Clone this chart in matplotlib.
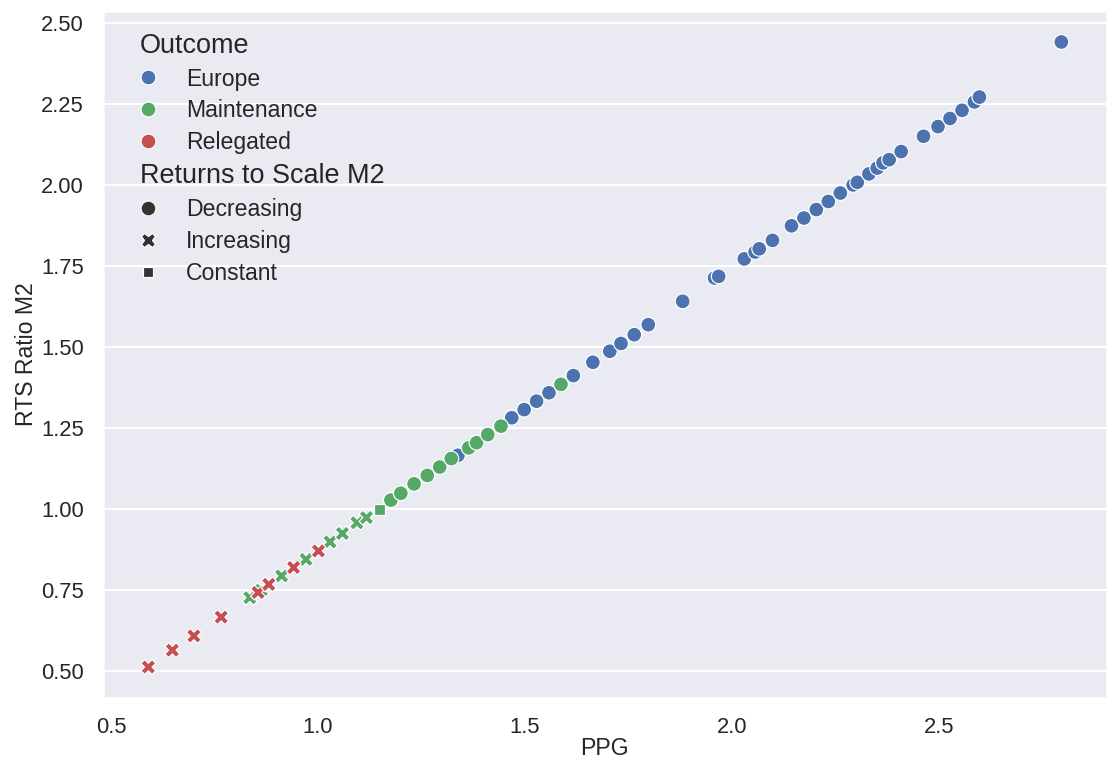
import matplotlib
matplotlib.use("Agg")
import matplotlib.pyplot as plt
import pandas as pd
import seaborn as sns

# blue points (Europe), all decreasing returns to scale
europe_ppg = [1.338, 1.468, 1.498, 1.528, 1.558, 1.617, 1.664, 1.705, 1.732, 1.764,
              1.798, 1.881, 1.958, 1.968, 2.030, 2.056, 2.066, 2.098, 2.144, 2.174,
              2.204, 2.233, 2.262, 2.293, 2.303, 2.331, 2.351, 2.365, 2.380, 2.409,
              2.463, 2.498, 2.527, 2.556, 2.586, 2.598, 2.796]
europe_rts = [1.165, 1.281, 1.306, 1.332, 1.358, 1.411, 1.452, 1.486, 1.510, 1.537,
              1.568, 1.640, 1.712, 1.717, 1.771, 1.792, 1.802, 1.828, 1.873, 1.897,
              1.923, 1.948, 1.974, 1.999, 2.007, 2.033, 2.051, 2.067, 2.077, 2.102,
              2.149, 2.179, 2.204, 2.229, 2.255, 2.270, 2.440]

# green points (Maintenance)
maint_ppg = [0.835, 0.863, 0.912, 0.971, 1.029, 1.059, 1.094, 1.117, 1.149,
             1.176, 1.200, 1.232, 1.264, 1.294, 1.322, 1.364, 1.383, 1.410, 1.442, 1.587]
maint_rts = [0.726, 0.749, 0.793, 0.844, 0.898, 0.924, 0.957, 0.973, 0.998,
             1.027, 1.048, 1.077, 1.103, 1.129, 1.155, 1.188, 1.204, 1.229, 1.255, 1.384]
maint_type = ["Increasing"] * 8 + ["Constant"] + ["Decreasing"] * 11

# red points (Relegated), all increasing
releg_ppg = [0.590, 0.648, 0.700, 0.766, 0.855, 0.881, 0.941, 1.001]
releg_rts = [0.512, 0.564, 0.608, 0.666, 0.742, 0.767, 0.819, 0.870]

colors = ["#4C72B0", "#55A868", "#C44E52"]
subtitles = ["Outcome", "Returns to Scale M2"]

df = pd.DataFrame({
    "PPG": europe_ppg + maint_ppg + releg_ppg,
    "RTS Ratio M2": europe_rts + maint_rts + releg_rts,
    "Outcome": ["Europe"] * len(europe_ppg) + ["Maintenance"] * len(maint_ppg)
               + ["Relegated"] * len(releg_ppg),
    "Returns to Scale M2": ["Decreasing"] * len(europe_ppg) + maint_type
                           + ["Increasing"] * len(releg_ppg),
})

sns.set_theme(style="darkgrid")
plt.rcParams["font.family"] = ["Liberation Sans", "DejaVu Sans"]
plt.rcParams["legend.frameon"] = False
plt.rcParams["legend.fontsize"] = 11.5
plt.rcParams["legend.title_fontsize"] = 13.5
plt.rcParams["legend.labelspacing"] = 0.39
plt.rcParams["legend.handletextpad"] = 0.68
plt.rcParams["legend.borderaxespad"] = 0.55
plt.rcParams["axes.labelsize"] = 11.5

fig = plt.figure(figsize=(1110 / 144, 762 / 144), dpi=144)
ax = fig.add_axes([102.7 / 1110, 1 - 698.3 / 762, (1107 - 102.7) / 1110, (698.3 - 10.7) / 762])
sns.scatterplot(data=df, x="PPG", y="RTS Ratio M2", hue="Outcome",
                style="Returns to Scale M2", palette=colors, s=55, ax=ax)
ax.grid(axis="x", visible=False)
ax.set_yticks([0.5, 0.75, 1.0, 1.25, 1.5, 1.75, 2.0, 2.25, 2.5])
ax.set_xticks([0.5, 1.0, 1.5, 2.0, 2.5])
ax.set_xlabel("PPG", labelpad=-0.5)
ax.set_ylabel("RTS Ratio M2", labelpad=1.5)

# make the group headers look like titles, flush with the markers
leg = ax.get_legend()
for col in leg._legend_handle_box.get_children():
    for row in col.get_children():
        draw_area, text_area = row.get_children()
        txt = text_area.get_children()[0]
        if txt.get_text() in subtitles:
            draw_area.set_width(0)
            txt.set_fontsize(13.5)

fig.savefig("out.png", dpi=144)
